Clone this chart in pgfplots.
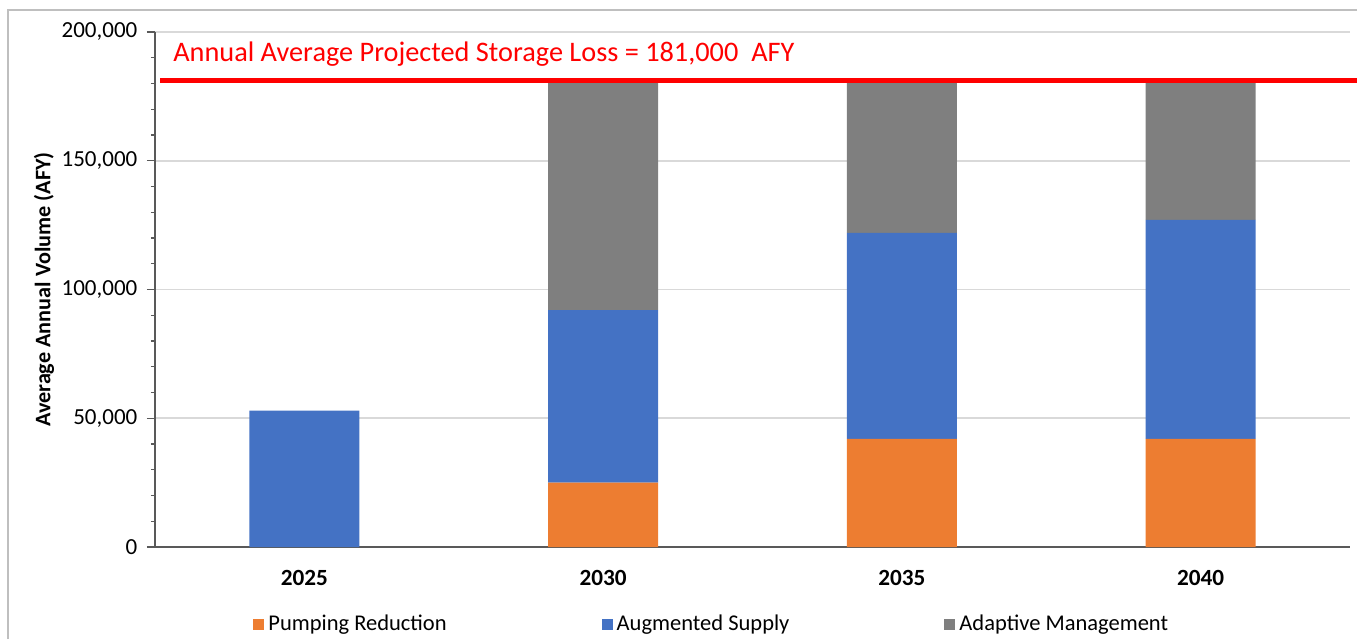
\documentclass[border=0pt]{standalone}
\usepackage{pgfplots}
\pgfplotsset{compat=1.18}
\usepackage{fontspec}
\setmainfont{Carlito}
\definecolor{cOrange}{HTML}{ED7D31}
\definecolor{cBlue}{HTML}{4472C4}
\definecolor{cGray}{HTML}{7F7F7F}
\definecolor{cGrid}{HTML}{D9D9D9}
\definecolor{cAxis}{HTML}{595959}
\definecolor{cFrame}{HTML}{BFBFBF}
\begin{document}
\begin{tikzpicture}
\useasboundingbox (-77.5pt,-46pt) rectangle (601pt,273.5pt);
\draw[cFrame, line width=0.8pt] (-73.5pt,-46pt) -- (-73.5pt,268.5pt) -- (601pt,268.5pt);
\begin{axis}[
  scale only axis,
  width=597.5pt, height=257.5pt,
  anchor=south west, at={(0,0)},
  xmin=-0.5, xmax=3.5,
  ymin=0, ymax=200000,
  ybar stacked,
  bar width=55pt,
  axis x line*=bottom,
  axis y line*=left,
  axis line style={cAxis, line width=0.8pt, -},
  xtick={0,1,2,3},
  xticklabels={2025,2030,2035,2040},
  major x tick style={draw=none},
  xticklabel style={font=\fontsize{11.6}{13}\selectfont\bfseries, yshift=-4pt},
  ytick={0,50000,100000,150000,200000},
  yticklabels={0,{50,000},{100,000},{150,000},{200,000}},
  scaled y ticks=false,
  minor y tick num=4,
  tick align=outside,
  major tick length=4pt,
  minor tick length=2pt,
  tick style={cAxis, line width=0.6pt},
  yticklabel style={font=\fontsize{11.5}{13}\selectfont, xshift=-1.3pt},
  ymajorgrids,
  grid style={cGrid, line width=0.8pt},
  ylabel={Average Annual Volume (AFY)},
  ylabel style={font=\fontsize{11.1}{12}\selectfont\bfseries, at={(axis description cs:-0.0929,0.5)}, anchor=center},
  legend columns=3,
  legend style={draw=none, fill=none, inner sep=0pt, font=\fontsize{11.25}{13}\selectfont,
    at={(axis description cs:0.082,-0.1495)}, anchor=west,
    /tikz/every even column/.append style={column sep=75.5pt}},
  legend image code/.code={\fill[#1] (0pt,-2.75pt) rectangle (5.5pt,2.75pt);},
]
\addplot[fill=cOrange, draw=none] coordinates {(0,0) (1,25000) (2,42000) (3,42000)};
\addlegendentry{Pumping Reduction}
\addplot[fill=cBlue, draw=none] coordinates {(0,53000) (1,67000) (2,80000) (3,85000)};
\addlegendentry{Augmented Supply}
\addplot[fill=cGray, draw=none] coordinates {(0,0) (1,89000) (2,59000) (3,54000)};
\addlegendentry{Adaptive Management}
\end{axis}
\begin{axis}[
  scale only axis,
  width=597.5pt, height=257.5pt,
  anchor=south west, at={(0,0)},
  xmin=-0.5, xmax=3.5,
  ymin=0, ymax=200000,
  clip=false,
  hide axis,
]
\addplot[red, line width=2.5pt, mark=none] coordinates {(-0.483,181000) (3.523,181000)};
\node[anchor=west, text=red, font=\fontsize{14.15}{16}\selectfont, inner sep=0pt] at (axis cs:-0.44,191300) {Annual Average Projected Storage Loss = 181,000~~AFY};
\end{axis}
\end{tikzpicture}
\end{document}
